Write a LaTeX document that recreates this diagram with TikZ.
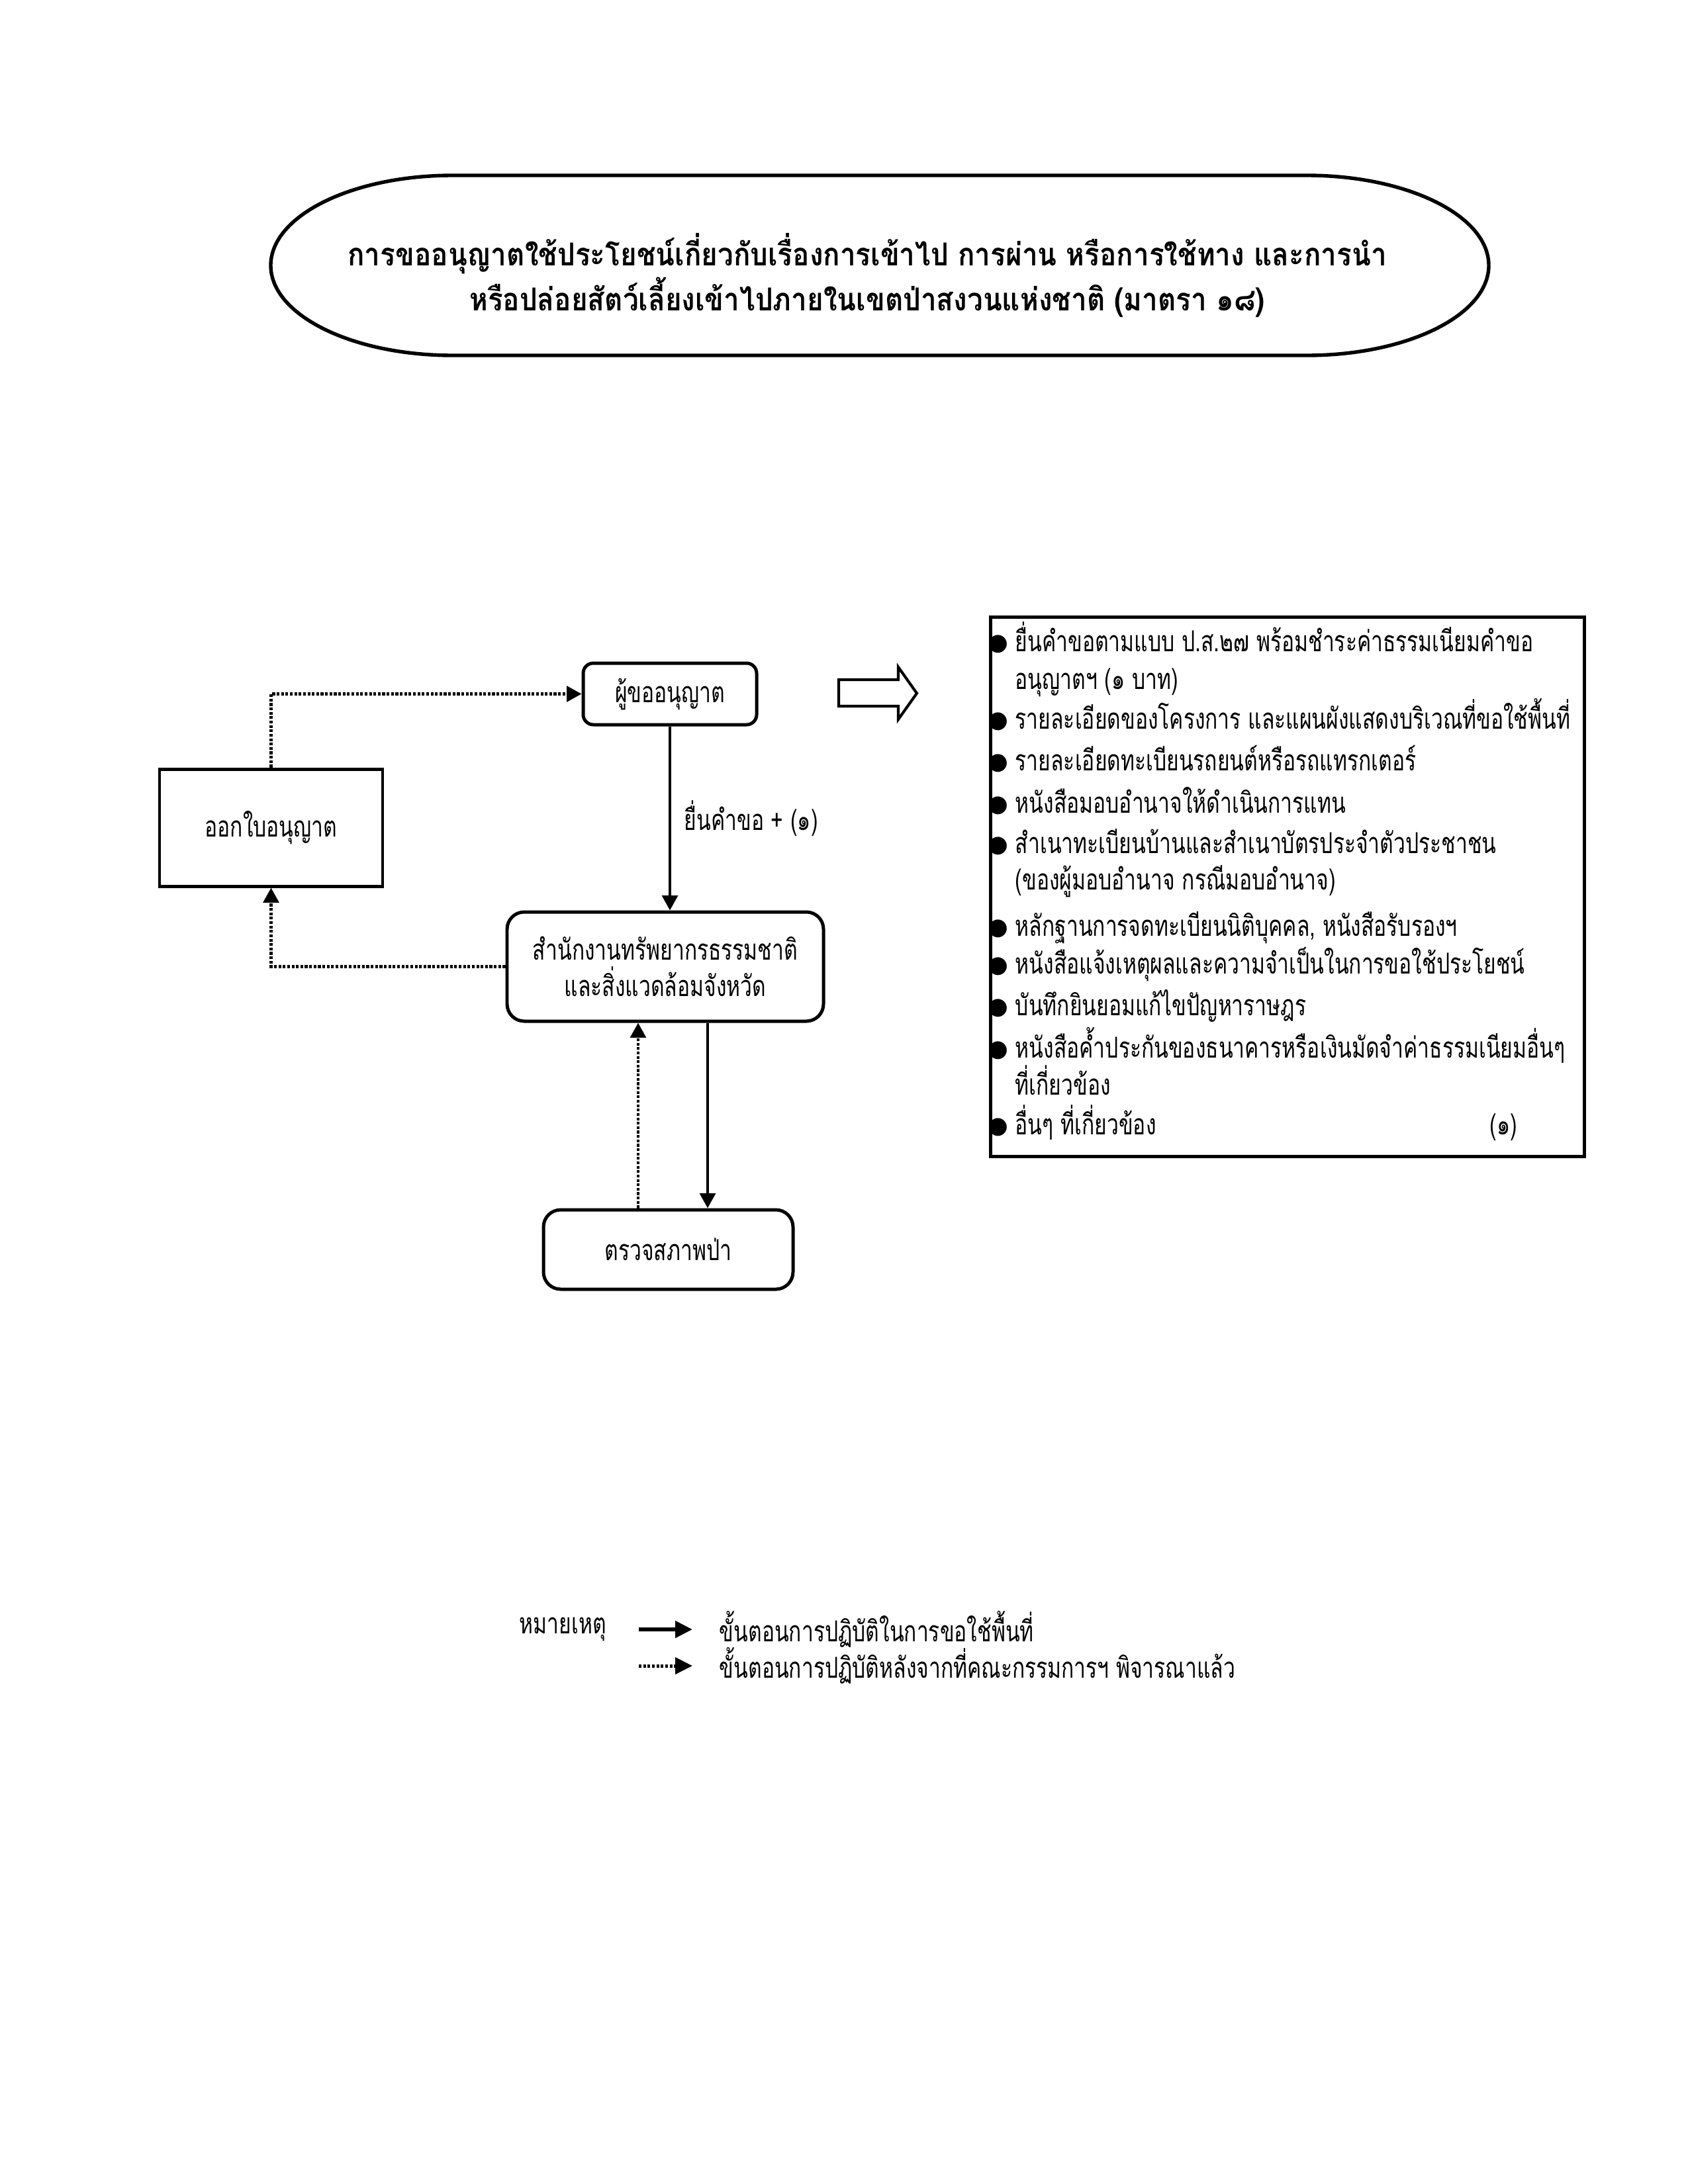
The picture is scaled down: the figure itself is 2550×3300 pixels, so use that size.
\documentclass[tikz,border=0pt]{standalone}
\usepackage{fontspec}
\setmainfont[Script=Thai, FakeStretch=0.73]{Loma}
\newfontfamily\titlefont[Script=Thai, FakeStretch=0.885]{Loma}
\newfontfamily\dejavu{DejaVu Sans}
\usetikzlibrary{arrows.meta}
\def\u{0.084667mm}
\begin{document}
\begin{tikzpicture}[x=0.084667mm,y=-0.084667mm,
  txt/.style={font=\fontsize{10.5}{13.2}\selectfont, inner sep=0pt},
  box/.style={draw, line width=1.2pt, inner sep=0pt, align=center, font=\fontsize{10.5}{13.2}\selectfont},
  rbox/.style={box, rounded corners=2.2mm},
  con/.style={line width=1pt, -{Triangle[length=1.9mm,width=2mm]}},
  dotcon/.style={con, dash pattern=on 1pt off 0.6pt},
  bul/.style={font=\dejavu\fontsize{8.5}{9}\selectfont, inner sep=0pt},
  li/.style={txt, anchor=base west},
]
\useasboundingbox[fill=white] (0,0) rectangle (2550,3300);

% title
\draw[line width=1.3pt] (684,265) -- (1974,265)
  arc[start angle=-90, end angle=90, x radius=275, y radius=136]
  -- (684,537)
  arc[start angle=90, end angle=270, x radius=275, y radius=136] -- cycle;
\node[align=center, inner sep=0pt, font=\titlefont\bfseries\fontsize{11.5}{16.6}\selectfont] (title) at (1310,416)
  {การขออนุญาตใช้ประโยชน์เกี่ยวกับเรื่องการเข้าไป การผ่าน หรือการใช้ทาง และการนำ\\
   หรือปล่อยสัตว์เลี้ยงเข้าไปภายในเขตป่าสงวนแห่งชาติ (มาตรา ๑๘)};

% boxes
\node[rbox, rounded corners=1.3mm, minimum width=262*\u, minimum height=93*\u] (app) at (1012,1048.5) {ผู้ขออนุญาต};
\node[box, minimum width=337*\u, minimum height=177*\u] (issue) at (409.5,1250.5) {ออกใบอนุญาต};
\node[rbox, minimum width=478*\u, minimum height=165*\u] (office) at (1005,1460.5) {สำนักงานทรัพยากรธรรมชาติ\\และสิ่งแวดล้อมจังหวัด};
\node[rbox, minimum width=377*\u, minimum height=120*\u] (insp) at (1009.5,1888) {ตรวจสภาพป่า};
\node[box, minimum width=897*\u, minimum height=815*\u] (list) at (1944.5,1339.5) {};

% connectors
\draw[dotcon] (issue.north) |- (app.west);
\draw[con] (app.south) -- (app.south |- office.north);
\node[txt, anchor=west] (lbl) at (1033,1237) {ยื่นคำขอ + (๑)};
\draw[dotcon] (office.west) -| (issue.south);
\draw[dotcon] ([xshift=-45.5*\u]insp.north) -- ([xshift=-45.5*\u]insp.north |- office.south);
\draw[con] ([xshift=59.5*\u]insp.north |- office.south) -- ([xshift=59.5*\u]insp.north);

% block arrow
\draw[line width=1pt] (1267,1027) -- (1357,1027) -- (1357,1008) -- (1385,1047.5)
  -- (1357,1087) -- (1357,1067) -- (1267,1067) -- cycle;

% list
\foreach \y in {973,1090,1153,1217,1278,1403,1460,1523,1587,1703}
  \node[bul] at (1508,\y) {●};
\node[li] (l1) at (1533,984) {ยื่นคำขอตามแบบ ป.ส.๒๗ พร้อมชำระค่าธรรมเนียมคำขอ};
\node[li] (l2) at (1533,1041) {อนุญาตฯ (๑ บาท)};
\node[li] (l3) at (1533,1101) {รายละเอียดของโครงการ และแผนผังแสดงบริเวณที่ขอใช้พื้นที่};
\node[li] (l4) at (1533,1164) {รายละเอียดทะเบียนรถยนต์หรือรถแทรกเตอร์};
\node[li] (l5) at (1533,1228) {หนังสือมอบอำนาจให้ดำเนินการแทน};
\node[li] (l6) at (1533,1289) {สำเนาทะเบียนบ้านและสำเนาบัตรประจำตัวประชาชน};
\node[li] (l7) at (1533,1344) {(ของผู้มอบอำนาจ กรณีมอบอำนาจ)};
\node[li] (l8) at (1533,1414) {หลักฐานการจดทะเบียนนิติบุคคล, หนังสือรับรองฯ};
\node[li] (l9) at (1533,1471) {หนังสือแจ้งเหตุผลและความจำเป็นในการขอใช้ประโยชน์};
\node[li] (l10) at (1533,1534) {บันทึกยินยอมแก้ไขปัญหาราษฎร};
\node[li] (l11) at (1533,1598) {หนังสือค้ำประกันของธนาคารหรือเงินมัดจำค่าธรรมเนียมอื่นๆ};
\node[li] (l12) at (1533,1654) {ที่เกี่ยวข้อง};
\node[li] (l13) at (1533,1714) {อื่นๆ ที่เกี่ยวข้อง};
\node[li] (l13b) at (2250,1714) {(๑)};

% legend
\node[txt, anchor=west] (note) at (784,2462) {หมายเหตุ};
\coordinate (a1s) at (965,2462);
\coordinate (a1e) at (1046,2462);
\coordinate (a2s) at (965,2517);
\coordinate (a2e) at (1046,2517);
\draw[con, line width=1.4pt, -{Triangle[length=2.2mm,width=2.1mm]}] (a1s) -- (a1e);
\draw[dotcon, line width=1.2pt, -{Triangle[length=2.2mm,width=2.1mm]}] (a2s) -- (a2e);
\node[txt, anchor=west] (leg1) at (1086,2462) {ขั้นตอนการปฏิบัติในการขอใช้พื้นที่};
\node[txt, anchor=west] (leg2) at (1086,2517) {ขั้นตอนการปฏิบัติหลังจากที่คณะกรรมการฯ พิจารณาแล้ว};
\end{tikzpicture}
\end{document}
